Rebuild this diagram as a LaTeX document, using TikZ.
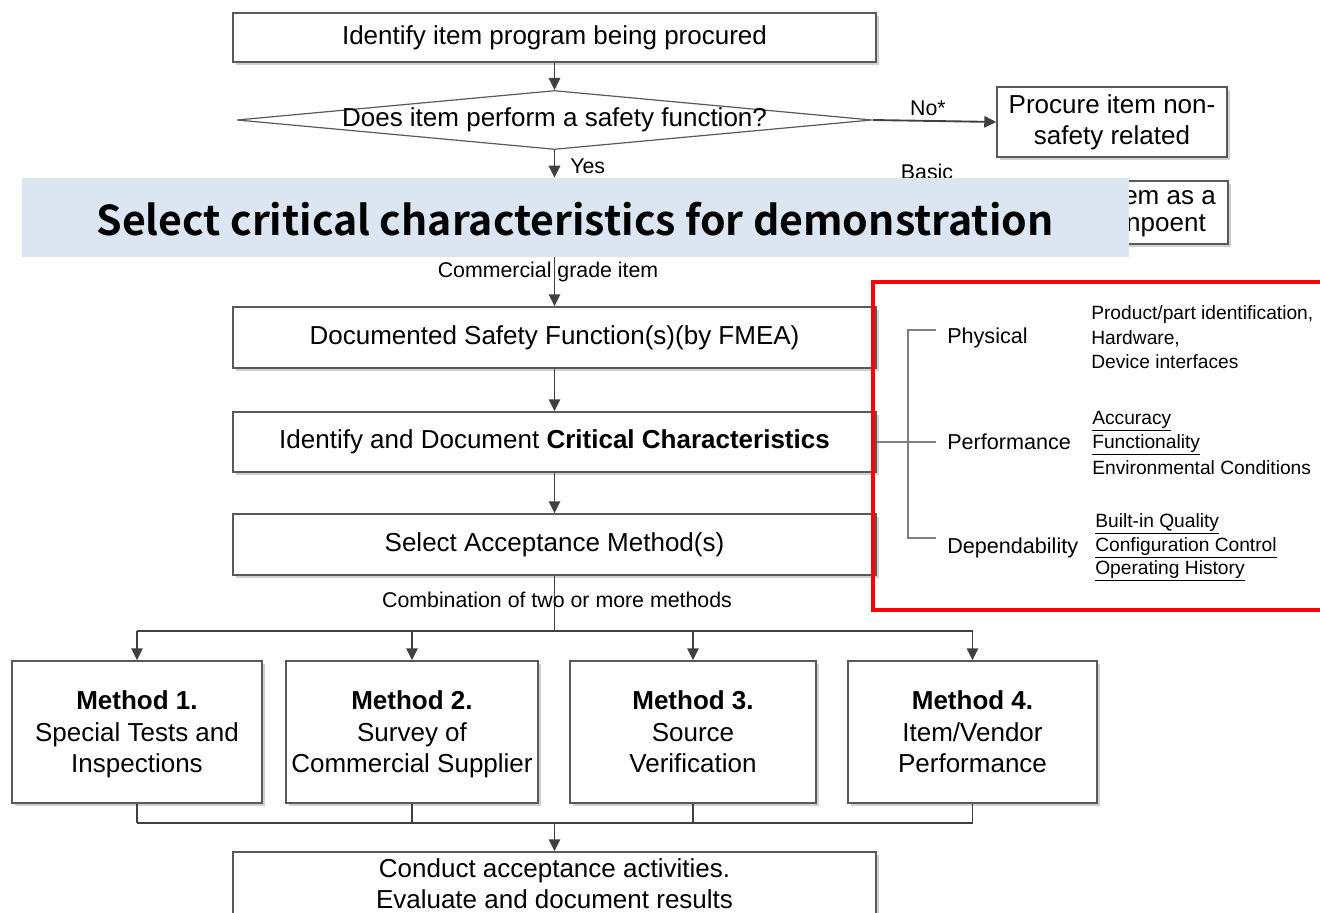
\documentclass[tikz,border=0pt]{standalone}
\usepackage{fontspec}
\setmainfont{Liberation Sans}
\newfontfamily\bannerfont{Noto Sans CJK KR}[BoldFont={Noto Sans CJK KR Bold}]
\usetikzlibrary{shapes.geometric,arrows.meta,shadows}
\newdimen\pxu \pxu=0.75pt
\definecolor{boxgray}{HTML}{595959}
\definecolor{arrgray}{HTML}{404040}
\definecolor{brkgray}{HTML}{7F7F7F}
\definecolor{bannerblue}{HTML}{DCE6F2}
\newcommand{\bigtxt}{\fontsize{19.5pt}{23.5pt}\selectfont}
\newcommand{\midtxt}{\fontsize{16pt}{19pt}\selectfont}
\newcommand{\smltxt}{\fontsize{14.4pt}{17pt}\selectfont}
\begin{document}
\begin{tikzpicture}[x=0.75pt,y=-0.75pt,
  box/.style={draw=boxgray, line width=1.1pt, fill=white, inner sep=0pt,
    align=center, font=\bigtxt,
    drop shadow={shadow xshift=2.2pt, shadow yshift=-2.2pt, fill=black!18, opacity=1}},
  methbox/.style={box, minimum height=142\pxu},
  methtxt/.style={inner sep=0pt, align=center, font=\bigtxt},
  arr/.style={draw=arrgray, line width=1.4pt, -{Triangle[length=9pt,width=8.5pt]}},
  conn/.style={draw=arrgray, line width=1.4pt},
  brk/.style={draw=brkgray, line width=0.8pt},
  lbl/.style={inner sep=0pt, font=\midtxt},
  item/.style={inner sep=0pt, anchor=west, font=\smltxt}]
\useasboundingbox (0,0) rectangle (1320,913);

% main column
\node[box, minimum width=643\pxu, minimum height=49\pxu] (n1) at (554.5,37.5)
  {Identify item program being procured};
\node[draw=boxgray, line width=0.9pt, diamond, aspect=10, inner sep=0pt,
  minimum width=635\pxu, minimum height=59\pxu] (dec) at (554.5,120) {};
\node[inner sep=0pt, font=\bigtxt] (dectxt) at (dec.center) {Does item perform a safety function?};
\draw[arr] (n1.south) -- (dec.north);

% non-safety branch
\node[box, minimum width=230\pxu, minimum height=70\pxu] (np) at (1112,122)
  {Procure item non-\\safety related};
\draw[arr] (dec.east) -- (np.west);
\node[lbl] (no) at (928,108) {No*};

\node[lbl] (basic) at (927,172) {Basic};
\node[box, minimum width=228\pxu, minimum height=63\pxu] (bc) at (1114,212.5) {};
\node[inner sep=0pt, anchor=east, font=\bigtxt] (bc1) at (1216,198) {em as a};
\node[inner sep=0pt, anchor=east, font=\bigtxt] (bc2) at (1206,226) {npoent};

% title banner
\node[fill=bannerblue, minimum width=1107\pxu, minimum height=79\pxu, inner sep=0pt] (ban) at (575.5,217.5) {};
\node[inner sep=0pt, font=\bannerfont\bfseries\fontsize{30.8pt}{38pt}\selectfont] (bantxt) at (575,219)
  {Select critical characteristics for demonstration};

\draw[arr] (dec.south) -- (dec.south |- ban.north);
\node[lbl, anchor=west] (yes) at (570,166) {Yes};

\node[box, minimum width=643\pxu, minimum height=61\pxu] (dsf) at (554.5,337.5)
  {Documented Safety Function(s)(by FMEA)};
\node[box, minimum width=643\pxu, minimum height=60\pxu] (idc) at (554.5,442)
  {Identify and Document \textbf{Critical Characteristics}};
\node[box, minimum width=643\pxu, minimum height=61\pxu] (sam) at (554.5,544.5)
  {Select Acceptance Method(s)};

\draw[arr] (ban.south -| dsf.north) -- (dsf.north);
\node[lbl] (cgi) at (548,272) {Commercial grade item};
\draw[arr] (dsf.south) -- (idc.north);
\draw[arr] (idc.south) -- (sam.north);

% acceptance methods
\node[methbox, minimum width=250\pxu] (m1) at (137,732) {};
\node[methbox, minimum width=252\pxu] (m2) at (412,732) {};
\node[methbox, minimum width=246\pxu] (m3) at (693,732) {};
\node[methbox, minimum width=249\pxu] (m4) at (972.5,732) {};
\node[methtxt] (m1t) at (137,734.5) {\textbf{Method 1.}\\Special Tests and\\Inspections\vphantom{p}};
\node[methtxt] (m2t) at (412,734.5) {\textbf{Method 2.}\\Survey of\\Commercial Supplier\vphantom{p}};
\node[methtxt] (m3t) at (693,734.5) {\textbf{Method 3.}\\Source\\Verification\vphantom{p}};
\node[methtxt] (m4t) at (972.5,734.5) {\textbf{Method 4.}\\Item/Vendor\\Performance\vphantom{p}};

\coordinate (split) at (554.5,631);
\coordinate (join) at (554.5,823);
\draw[conn] (sam.south) -- (split);
\node[lbl] (comb) at (557,600) {Combination of two or more methods};
\draw[conn] (m1.north |- split) -- (m4.north |- split);
\foreach \m in {m1,m2,m3,m4} {
  \draw[arr] (\m.north |- split) -- (\m.north);
  \draw[conn] (\m.south) -- (\m.south |- join);
}
\draw[conn] (m1.south |- join) -- (m4.south |- join);

\node[box, minimum width=643\pxu, minimum height=80\pxu] (fin) at (554.5,892) {};
\node[inner sep=0pt, font=\bigtxt, align=center] (fintxt) at (554.5,884)
  {Conduct acceptance activities.\\Evaluate and document results};
\draw[arr] (join) -- (fin.north);

% critical characteristics breakdown
\draw[red, line width=3.6pt] (873,282) rectangle (1335,610);
\coordinate (bktop) at (908,330);
\coordinate (bkbot) at (908,538);
\draw[brk] (idc.east) -- (936,442);
\draw[brk] (936,330) -- (bktop) -- (bkbot) -- (936,538);

\node[lbl, anchor=west, font=\fontsize{16.2pt}{19pt}\selectfont] (phy) at (947,338) {Physical};
\node[lbl, anchor=west, font=\fontsize{16.2pt}{19pt}\selectfont] (perf) at (947,442) {Performance};
\node[lbl, anchor=west, font=\fontsize{16.2pt}{19pt}\selectfont] (dep) at (947,548) {Dependability};

\node[item] (p1) at (1091,315) {Product/part identification,};
\node[item] (p2) at (1091,339) {Hardware,};
\node[item] (p3) at (1091,362) {Device interfaces};
\node[item] (q1) at (1092,421) {\underline{Accuracy}};
\node[item] (q2) at (1092,445) {\underline{Functionality}};
\node[item] (q3) at (1092,468) {Environmental Conditions};
\node[item] (d1) at (1095,524) {\underline{Built-in Quality}};
\node[item] (d2) at (1095,548) {\underline{Configuration Control}};
\node[item] (d3) at (1095,571) {\underline{Operating History}};
\end{tikzpicture}
\end{document}
